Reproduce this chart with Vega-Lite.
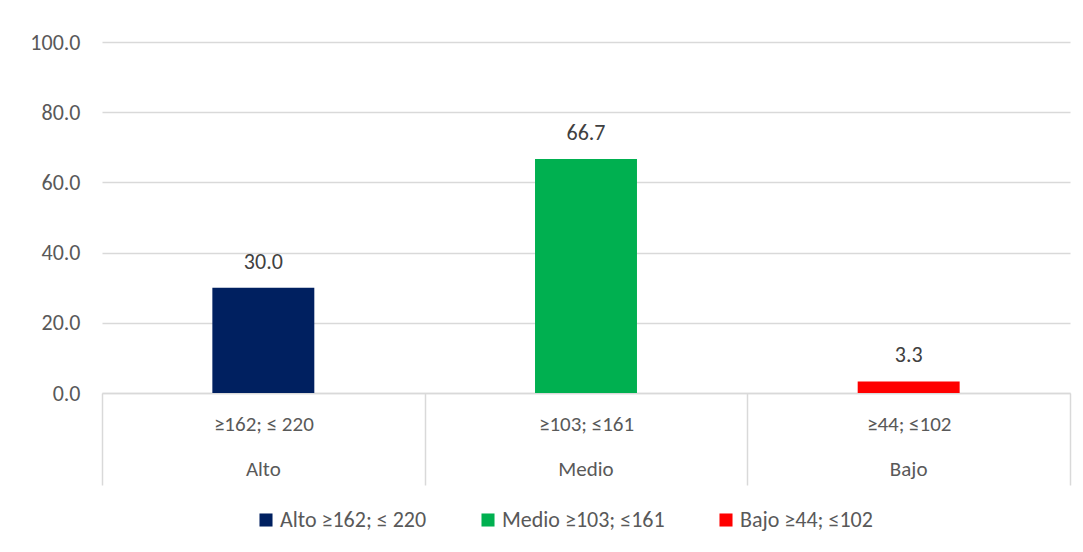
{
  "$schema": "https://vega.github.io/schema/vega-lite/v6.json",
  "autosize": "none",
  "width": 968,
  "height": 351,
  "padding": {"left": 102, "top": 42, "right": 13, "bottom": 159},
  "background": "white",
  "config": {
    "font": "Carlito, Calibri, Lato, sans-serif",
    "view": {"stroke": null}
  },
  "data": {
    "values": [
      {"rango": "≥162; ≤ 220", "nivel": "Alto", "serie": "Alto ≥162; ≤ 220", "valor": 30.0},
      {"rango": "≥103; ≤161", "nivel": "Medio", "serie": "Medio ≥103; ≤161", "valor": 66.7},
      {"rango": "≥44; ≤102", "nivel": "Bajo", "serie": "Bajo ≥44; ≤102", "valor": 3.3}
    ]
  },
  "resolve": {"axis": {"x": "independent"}},
  "layer": [
    {
      "mark": {"type": "bar", "width": {"band": 0.316}},
      "encoding": {
        "x": {
          "field": "rango",
          "type": "nominal",
          "sort": null,
          "scale": {"paddingInner": 0, "paddingOuter": 0},
          "axis": {
            "orient": "bottom",
            "title": null,
            "labelAngle": 0,
            "tickBand": "extent",
            "tickSize": 92,
            "tickColor": "#d9d9d9",
            "tickWidth": 1.5,
            "domainColor": "#d9d9d9",
            "domainWidth": 1.5,
            "labelPadding": -72,
            "labelFontSize": 21,
            "labelColor": "#595959"
          }
        },
        "y": {
          "field": "valor",
          "type": "quantitative",
          "scale": {"domain": [0, 100]},
          "axis": {
            "title": null,
            "values": [0, 20, 40, 60, 80, 100],
            "format": ".1f",
            "domain": false,
            "ticks": false,
            "labelPadding": 22,
            "labelFontSize": 22,
            "labelColor": "#595959",
            "gridColor": "#d9d9d9",
            "gridWidth": 1.5
          }
        },
        "color": {
          "field": "serie",
          "type": "nominal",
          "sort": null,
          "scale": {"range": ["#002060", "#00B050", "#FF0000"]},
          "legend": {
            "title": null,
            "orient": "none",
            "legendX": 153,
            "legendY": 467,
            "direction": "horizontal",
            "symbolType": "square",
            "symbolSize": 170,
            "symbolStrokeWidth": 0,
            "labelFontSize": 22,
            "labelColor": "#595959",
            "labelLimit": 400,
            "labelOffset": 3,
            "columnPadding": 50
          }
        }
      }
    },
    {
      "mark": {"type": "text", "dy": -26, "fontSize": 22, "color": "#404040"},
      "encoding": {
        "x": {
          "field": "rango",
          "type": "nominal",
          "sort": null,
          "axis": {
            "orient": "bottom",
            "title": null,
            "labelAngle": 0,
            "domain": false,
            "ticks": false,
            "labelPadding": 65,
            "labelFontSize": 21,
            "labelColor": "#595959",
            "labelExpr": "datum.value == '≥162; ≤ 220' ? 'Alto' : datum.value == '≥103; ≤161' ? 'Medio' : 'Bajo'"
          }
        },
        "y": {"field": "valor", "type": "quantitative"},
        "text": {"field": "valor", "type": "quantitative", "format": ".1f"}
      }
    }
  ]
}
